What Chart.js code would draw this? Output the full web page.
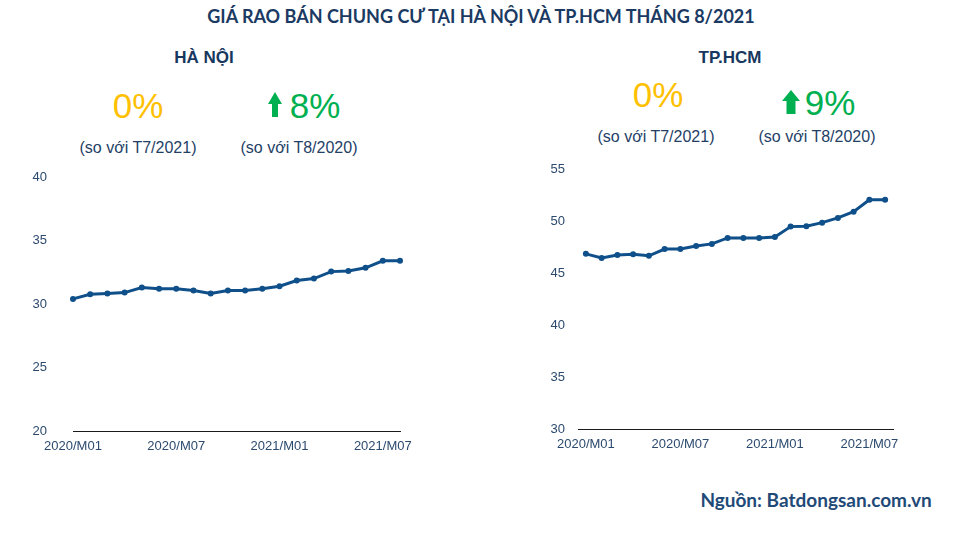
<!DOCTYPE html>
<html><head><meta charset="utf-8">
<script src="https://cdn.jsdelivr.net/npm/chart.js@4/dist/chart.umd.min.js"></script>
<style>
body{margin:0;width:979px;height:534px;background:#fff;position:relative;overflow:hidden;font-family:"Liberation Sans",Arial,sans-serif}
.t{position:absolute;white-space:nowrap;transform:translate(-50%,-50%);line-height:1}
.title{font-family:Lato,"Open Sans",sans-serif;font-weight:700;font-size:18px;color:#1B3A63}
.city{font-weight:700;font-size:17px;color:#17375E}
.big{font-size:35px}
.y{color:#FFC000}
.g{color:#00B050}
.sub{font-size:16px;color:#243F66}
.src{font-family:Lato,"Open Sans",sans-serif;font-weight:700;font-size:19px;color:#1F4A78}
canvas{position:absolute}
svg{position:absolute}
</style></head><body>
<div class="t title" style="left:481px;top:16px">GIÁ RAO BÁN CHUNG CƯ TẠI HÀ NỘI VÀ TP.HCM THÁNG 8/2021</div>

<div class="t city" style="left:204px;top:57px">HÀ NỘI</div>
<div class="t big y" style="left:138px;top:105px">0%</div>
<svg style="left:268px;top:92px" width="14" height="25" viewBox="0 0 14 25"><polygon points="7,0 14,12 10,12 10,25 4,25 4,12 0,12" fill="#00B050"/></svg>
<div class="t big g" style="left:315px;top:105px">8%</div>
<div class="t sub" style="left:138px;top:148px">(so với T7/2021)</div>
<div class="t sub" style="left:299px;top:148px">(so với T8/2020)</div>

<div class="t city" style="left:730px;top:57px">TP.HCM</div>
<div class="t big y" style="left:658px;top:94px">0%</div>
<svg style="left:782px;top:90px" width="18" height="24" viewBox="0 0 18 24"><polygon points="9,0 18,11 13.5,11 13.5,24 4.5,24 4.5,11 0,11" fill="#00B050"/></svg>
<div class="t big g" style="left:830px;top:102px">9%</div>
<div class="t sub" style="left:656px;top:137px">(so với T7/2021)</div>
<div class="t sub" style="left:817px;top:137px">(so với T8/2020)</div>

<div class="t src" style="left:816px;top:499px">Nguồn: Batdongsan.com.vn</div>

<canvas id="hn" style="left:0;top:160px" width="430" height="300"></canvas>
<canvas id="hcm" style="left:530px;top:150px" width="400" height="310"></canvas>

<script>
const categories = ['2020/M01','2020/M02','2020/M03','2020/M04','2020/M05','2020/M06','2020/M07','2020/M08','2020/M09','2020/M10','2020/M11','2020/M12','2021/M01','2021/M02','2021/M03','2021/M04','2021/M05','2021/M06','2021/M07','2021/M08'];
const hanoiValues = [30.4,30.76,30.83,30.9,31.3,31.2,31.2,31.07,30.83,31.07,31.07,31.2,31.4,31.85,32.0,32.55,32.6,32.85,33.4,33.4];
const hcmValues = [46.84,46.45,46.74,46.8,46.65,47.3,47.3,47.6,47.8,48.37,48.37,48.37,48.47,49.46,49.5,49.84,50.3,50.9,52.04,52.04];
const hanoiTicks = [20,25,30,35,40];
const hcmTicks = [30,35,40,45,50,55];

const LINE = '#0F4F8A';
const TICKC = '#2C4A6E';

function makeChart(id, values, ticks, cfg){
  return new Chart(document.getElementById(id), {
    type:'line',
    data:{labels:categories, datasets:[{data:values, borderColor:LINE, backgroundColor:LINE, borderWidth:3, pointRadius:3, pointHoverRadius:3, pointBorderWidth:0, tension:0, clip:false}]},
    options:{
      responsive:false, animation:false, events:[],
      layout:{padding:cfg.padding},
      plugins:{legend:{display:false}, tooltip:{enabled:false}},
      scales:{
        x:{type:'category', offset:cfg.offset,
           grid:{display:false, drawTicks:false},
           border:{display:true, color:'#1a1a1a', width:1},
           ticks:{autoSkip:false, maxRotation:0, minRotation:0, padding:8, color:TICKC, font:{family:'Liberation Sans', size:13},
             callback:function(v,i){ return i%6===0 ? categories[i] : ''; }},
           afterFit:function(s){ s.height = cfg.xh; s.paddingLeft = 0; s.paddingRight = 0; }},
        y:{min:ticks[0], max:ticks[ticks.length-1],
           grid:{display:false, drawTicks:false},
           border:{display:false},
           afterBuildTicks:function(s){ s.ticks = ticks.map(v=>({value:v})); },
           ticks:{padding:cfg.ypad, color:TICKC, font:{family:'Liberation Sans', size:13}},
           afterFit:function(s){ s.width = cfg.yw; s.paddingTop = 0; s.paddingBottom = 0; }}
      }
    }
  });
}
makeChart('hn', hanoiValues, hanoiTicks, {padding:{left:0,right:30,top:17,bottom:0}, offset:false, xh:29, yw:73, ypad:26});
makeChart('hcm', hcmValues, hcmTicks, {padding:{left:0,right:37,top:19,bottom:0}, offset:true, xh:31, yw:48, ypad:13});
</script>
</body></html>
